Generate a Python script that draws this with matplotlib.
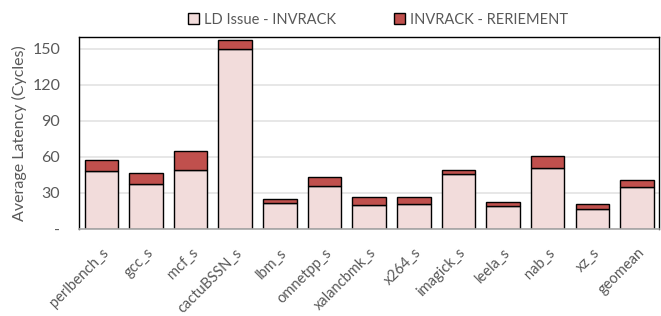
import matplotlib
matplotlib.use("Agg")
import matplotlib.pyplot as plt
import numpy as np

categories = ["perlbench_s", "gcc_s", "mcf_s", "cactuBSSN_s", "lbm_s", "omnetpp_s",
              "xalancbmk_s", "x264_s", "imagick_s", "leela_s", "nab_s", "xz_s", "geomean"]
ld_issue_invrack = [48.6, 37.5, 49.4, 150.0, 21.7, 36.0, 20.3, 20.8, 45.8, 19.4, 51.1, 16.7, 35.0]
invrack_retirement = [8.9, 9.5, 15.6, 7.5, 3.0, 7.3, 6.1, 5.6, 3.1, 3.4, 9.5, 4.4, 6.1]
series_names = ["LD Issue - INVRACK", "INVRACK - RERIEMENT"]
yticks = [0, 30, 60, 90, 120, 150]
ytick_labels = ["-", "30", "60", "90", "120", "150"]

plt.rcParams['font.family'] = ['Lato', 'DejaVu Sans']
text_color = "#595959"

fig = plt.figure(figsize=(6.61, 3.16), dpi=100)
ax = fig.add_axes([0.1195, 0.2753, 0.878, 0.6077])

x = np.arange(len(categories))
w = 0.75
b1 = ax.bar(x, ld_issue_invrack, w, color="#f2dcdb", edgecolor="black", linewidth=1.0,
            label=series_names[0], zorder=3)
b2 = ax.bar(x, invrack_retirement, w, bottom=ld_issue_invrack, color="#c0504d",
            edgecolor="black", linewidth=1.0, label=series_names[1], zorder=3)

ax.set_xlim(-0.5, len(categories) - 0.5)
ax.set_ylim(0, 160)
ax.set_yticks(yticks)
ax.set_yticklabels(ytick_labels)
ax.yaxis.grid(True, color="#e3e3e3", linewidth=1.2, zorder=0)
ax.set_axisbelow(True)

for s in ["top", "left", "right"]:
    ax.spines[s].set_color("black")
    ax.spines[s].set_linewidth(1.0)
ax.spines["bottom"].set_color("#a6a6a6")
ax.spines["bottom"].set_linewidth(1.2)
ax.spines["bottom"].set_zorder(4)

ax.tick_params(axis="y", length=0, labelsize=11.5, colors=text_color, pad=13.5)
ax.set_xticks(x)
ax.set_xticklabels(categories, rotation=45, ha="right", va="top",
                   rotation_mode="anchor", fontsize=10.5)
ax.tick_params(axis="x", length=0, colors=text_color, pad=12)
ax.set_ylabel("Average Latency (Cycles)", color=text_color, fontsize=11.5, labelpad=4)

leg = fig.legend(handles=[b1, b2], labels=series_names, loc="center",
                 bbox_to_anchor=(0.572, 0.937), ncol=2, frameon=False, fontsize=10.5,
                 handlelength=0.75, handleheight=0.75, handletextpad=0.35, columnspacing=4.0)
for t in leg.get_texts():
    t.set_color(text_color)

fig.savefig("out.png", dpi=100)
